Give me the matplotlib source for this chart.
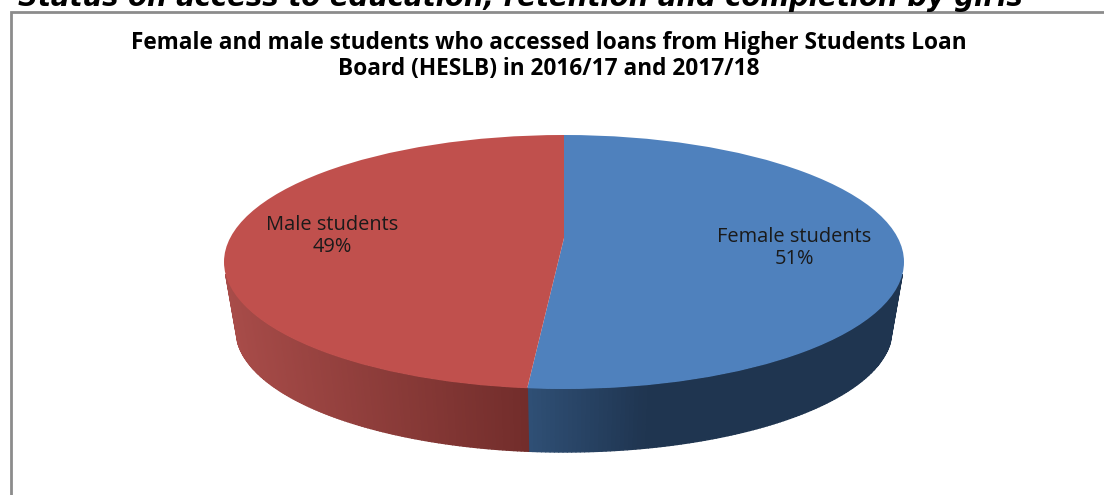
import numpy as np
import matplotlib
matplotlib.use("Agg")
import matplotlib.pyplot as plt
from matplotlib.collections import PolyCollection
from matplotlib.colors import LinearSegmentedColormap
from matplotlib.patches import Ellipse

HEADING = "Status on access to education, retention and completion by girls"
TITLE = ("Female and male students who accessed loans from Higher Students Loan\n"
         "Board (HESLB) in 2016/17 and 2017/18")
categories = ["Female students", "Male students"]
shares = [51.45, 48.55]
top_colors = ["#4f81bd", "#c0504d"]

W, H = 1104, 495
CX, CY, RX, RY = 564, 262, 340, 127      # top ellipse, pixels
APEX = 238                               # perspective apex, pixels
LOW_CY, LOW_RX, LOW_RY = 330, 328, 122   # lower rim, pixels

fig = plt.figure(figsize=(W / 100, H / 100), dpi=100, facecolor="white")

# pie axes: one data unit is the ellipse radius on each axis
ax = fig.add_axes([0, 0, 1, 1])
apex_y = (CY - APEX) / RY
wedges, _ = ax.pie(shares, colors=top_colors, startangle=90, counterclock=False,
                   center=(0, apex_y), radius=4)
ax.set_aspect("auto")
ax.set_xlim(-CX / RX, (W - CX) / RX)
ax.set_ylim((CY - H) / RY, CY / RY)
rim = Ellipse((0, 0), 2, 2, transform=ax.transData, facecolor="none", edgecolor="none")
ax.add_patch(rim)
for w in wedges:
    w.set_clip_on(True)
    w.set_clip_path(rim)
    w.set_zorder(3)

# where the wedge boundary meets the ellipse front edge
frac = shares[0] / sum(shares)
phi = 2 * np.pi * frac
dx, dy = np.sin(phi), np.cos(phi)
b = apex_y * dy
s = -b + np.sqrt(b * b - (apex_y ** 2 - 1))
t_b = np.arctan2(-(apex_y + s * dy), s * dx)

blue_cm = LinearSegmentedColormap.from_list(
    "b", [(0, "#1f3550"), (0.68, "#1f3550"), (1, "#2f4f75")])
red_cm = LinearSegmentedColormap.from_list(
    "r", [(0, "#722d2b"), (1, "#a84c49")])


def wall(t0, t1, cmap, xa, xb):
    ts = np.linspace(t0, t1, 121)
    polys, cols = [], []
    for a, c in zip(ts[:-1], ts[1:]):
        pts = []
        for t in (a, c):
            pts.append((np.cos(t), -np.sin(t)))
        for t in (c, a):
            pts.append((LOW_RX / RX * np.cos(t),
                         (CY - LOW_CY) / RY - LOW_RY / RY * np.sin(t)))
        polys.append(pts)
        xm = np.cos((a + c) / 2)
        cols.append(cmap(np.clip((xm - xa) / (xb - xa), 0, 1)))
    pc = PolyCollection(polys, facecolors=cols, edgecolors=cols, linewidths=1.0, zorder=2)
    ax.add_collection(pc)


wall(0.1, t_b, blue_cm, 1, np.cos(t_b))
wall(t_b, np.pi - 0.1, red_cm, np.cos(t_b), -1)

# overlay in pixel coordinates for frame and text
ov = fig.add_axes([0, 0, 1, 1], facecolor="none")
ov.set_xlim(0, W)
ov.set_ylim(H, 0)
ov.axis("off")
ov.plot([11, 11, W], [H, 12, 12], color="#8c8c8c", lw=2, solid_joinstyle="miter", zorder=1)

ov.text(18, 6.5, HEADING, fontsize=19.8, fontweight="bold", fontstyle="italic",
        family="DejaVu Sans", ha="left", va="baseline", color="black")
ov.text(549, 56, TITLE, fontsize=16.3, fontweight="bold", family="Open Sans",
        ha="center", va="center", linespacing=1.12, color="black")

label_pos = [(794, 248), (332, 236)]
for name, val, (x, y) in zip(categories, shares, label_pos):
    ov.text(x, y, f"{name}\n{round(val)}%", fontsize=14.4, family="Open Sans",
            ha="center", va="center", linespacing=1.1, color="#1a1a1a")

fig.savefig("out.png", dpi=100, facecolor="white")
